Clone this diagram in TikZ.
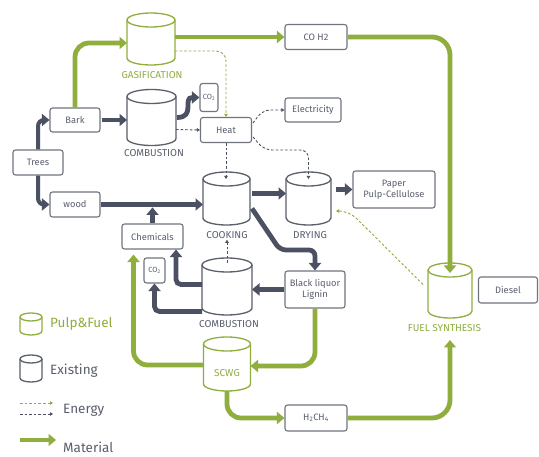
\documentclass[tikz,border=0pt]{standalone}
\usepackage{fontspec}
\setmainfont{Fira Sans}
\usetikzlibrary{arrows.meta,calc}
\definecolor{grn}{HTML}{8FAE3E}
\definecolor{drk}{HTML}{4B5163}
\definecolor{bord}{HTML}{70747E}
\definecolor{txt}{HTML}{5A5F6C}
\tikzset{
  box/.style={draw=bord, line width=1.1pt, rounded corners=2.5pt, fill=white, text=txt,
    font=\fontsize{9.3}{10.8}\selectfont, align=center, inner sep=1pt},
  cylnode/.style={inner sep=0pt, outer sep=0pt},
  gcyl/.style={draw=grn, line width=1.3pt},
  dcyl/.style={draw=txt, line width=1.3pt},
  lbl/.style={text=txt, font=\fontsize{10}{11}\selectfont, inner sep=1pt},
  glbl/.style={text=grn, font=\fontsize{10}{11}\selectfont, inner sep=1pt},
  mat/.style={line width=4.8pt, -{Triangle[length=7.5pt,width=12pt]}},
  gmat/.style={mat, draw=grn},
  dmat/.style={mat, draw=drk},
  enr/.style={line width=0.9pt, dash pattern=on 2.6pt off 2pt, -{Triangle[length=3pt,width=3.5pt]}},
  gen/.style={enr, draw=grn},
  den/.style={enr, draw=drk},
  legtxt/.style={anchor=west, font=\fontsize{13.5}{15}\selectfont, inner sep=0pt},
}
\newcommand\mycyl[7]{%
  \node[cylnode, minimum width=#4pt, minimum height=#5pt] (#1) at (#2,#3) {};
  \coordinate (#1-top) at ([yshift=-#6pt]#1.north);
  \draw[#7, fill=white] ([yshift=-#6pt]#1.north west) -- ([yshift=#6pt]#1.south west)
     arc[start angle=180, end angle=360, x radius=#4*0.5pt, y radius=#6pt]
     -- ([yshift=-#6pt]#1.north east)
     arc[start angle=0, end angle=180, x radius=#4*0.5pt, y radius=#6pt] -- cycle;
  \draw[#7] ([yshift=-#6pt]#1.north west)
     arc[start angle=180, end angle=360, x radius=#4*0.5pt, y radius=#6pt];
}
\begin{document}
\begin{tikzpicture}[x=1pt,y=-1pt]
\useasboundingbox (0,0) rectangle (539,457);
\fill[white] (0,0) rectangle (539,457);

% cylinders
\mycyl{gas}{151}{39}{48}{52}{7}{gcyl}
\mycyl{comb1}{151.5}{117.5}{49}{56}{7}{dcyl}
\mycyl{cook}{226.5}{198.5}{47}{53}{7}{dcyl}
\mycyl{dry}{308.5}{198.5}{45}{53}{7}{dcyl}
\mycyl{comb2}{227}{286.5}{50}{57}{7}{dcyl}
\mycyl{scwg}{227}{364}{47}{54}{7}{gcyl}
\mycyl{fuel}{450}{290.5}{44}{55}{7}{gcyl}
\mycyl{lg1}{31}{324}{22}{22}{4}{gcyl}
\mycyl{lg2}{31}{368.5}{22}{27}{4}{dcyl}

% cylinder labels
\node[glbl] (gaslbl) at (152,75) {GASIFICATION};
\node[lbl] (comb1lbl) at (154,153) {COMBUSTION};
\node[lbl] (cooklbl) at (227,235) {COOKING};
\node[lbl] (drylbl) at (310,235) {DRYING};
\node[lbl] (comb2lbl) at (229,324) {COMBUSTION};
\node[glbl] (fuellbl) at (444.5,328) {FUEL SYNTHESIS};
\node[glbl] (scwglbl) at (227,373) {SCWG};

% boxes
\node[box, minimum width=50pt, minimum height=25pt] (trees) at (38,162.5) {Trees};
\node[box, minimum width=50pt, minimum height=24pt] (bark) at (75,120) {Bark};
\node[box, minimum width=50pt, minimum height=25pt] (wood) at (75,204.5) {wood};
\node[box, minimum width=51pt, minimum height=25pt] (heat) at (226,130) {Heat};
\node[box, minimum width=18pt, minimum height=28pt, font=\fontsize{7.5}{8.5}\selectfont, inner sep=0.5pt] (co2a) at (209,97.5) {CO\textsubscript{2}};
\node[box, minimum width=56pt, minimum height=24pt] (elec) at (313,110) {Electricity};
\node[box, minimum width=62pt, minimum height=25pt] (coh2) at (316,37) {CO H2};
\node[box, minimum width=82pt, minimum height=37pt] (paper) at (394,189.5) {Paper\\Pulp-Cellulose};
\node[box, minimum width=61pt, minimum height=25pt] (chem) at (152.5,236.5) {Chemicals};
\node[box, minimum width=21pt, minimum height=25pt, font=\fontsize{7.5}{8.5}\selectfont, inner sep=0.5pt] (co2b) at (154.5,270.5) {CO\textsubscript{2}};
\node[box, minimum width=60pt, minimum height=37pt] (black) at (315,289.5) {Black liquor\\Lignin};
\node[box, minimum width=62pt, minimum height=26pt] (h2ch4) at (316,418) {H\textsubscript{2}CH\textsubscript{4}};
\node[box, minimum width=59pt, minimum height=26pt] (diesel) at (508,290) {Diesel};

% legend
\node[legtxt, text=grn] (lpf) at (50,324) {Pulp\&Fuel};
\node[legtxt, text=txt] (lex) at (50,371) {Existing};
\node[legtxt, text=txt] (len) at (63,410) {Energy};
\node[legtxt, text=txt] (lma) at (63,447) {Material};
\coordinate (lg3a) at (20,403); \coordinate (lg3b) at (53,403);
\coordinate (lg4a) at (20,414); \coordinate (lg4b) at (53,414);
\coordinate (lg5a) at (20,440); \coordinate (lg5b) at (56,440);
\draw[gen] (lg3a) -- (lg3b);
\draw[den] (lg4a) -- (lg4b);
\draw[gmat] (lg5a) -- (lg5b);

% material connectors (dark)
\draw[dmat, line width=4pt, rounded corners=6pt] (trees.north) |- (bark.west);
\draw[dmat, line width=4pt, rounded corners=6pt] (trees.south) |- (wood.west);
\draw[dmat, shorten <=1pt] (bark.east) -- (bark.east -| comb1.west);
\draw[dmat] ($(comb1.east)+(1,0)$) .. controls (196,117.5) and (182,97.5) .. (co2a.west);
\draw[dmat] (wood.east) -- (wood.east -| cook.west);
\draw[dmat] (chem.north) -- ++(0,-16);
\draw[dmat] ($(cook.east)+(2,-5)$) -- ($(dry.west)+(0,-5)$);
\draw[dmat, shorten <=5pt] (dry.east |- paper.west) -- (paper.west);
\draw[dmat, rounded corners=6pt] ($(cook.east)+(2,10)$) -- (280,250) -| (black.north);
\draw[dmat] (black.west) -- (black.west -| comb2.east);
\draw[dmat, rounded corners=5pt] ([yshift=2pt]comb2.west) -| ([xshift=23.5pt]chem.south);
\draw[dmat, rounded corners=5pt] ([yshift=-25pt]comb2.west) -| (co2b.south);

% material connectors (green)
\draw[gmat, rounded corners=14pt] (bark.north) |- ($(gas.west)+(0,4)$);
\draw[gmat] (gas.east |- coh2.west) -- (coh2.west);
\draw[gmat, rounded corners=18pt] (coh2.east) -| ($(fuel.north)+(0,10)$);
\draw[gmat, rounded corners=14pt] (black.south) |- ($(scwg.east)+(0,2)$);
\draw[gmat, rounded corners=14pt, shorten >=5pt] ($(scwg.west)+(0,1)$) -| ([xshift=-19pt]chem.south);
\draw[gmat, rounded corners=14pt] (scwg.south) |- (h2ch4.west);
\draw[gmat, rounded corners=18pt, shorten >=22pt] (h2ch4.east) -| (fuel.south);

% energy connectors
\draw[gen, rounded corners=10pt] ($(gas.east)+(0,12)$) -| (heat.north);
\draw[den] ($(comb1.east)+(0,12)$) -- (heat.west);
\draw[den] ($(heat.east)+(1,-7)$) .. controls (260,113) and (263,110) .. (272,110) -- (elec.west);
\draw[den, rounded corners=8pt] ($(heat.east)+(1,7)$) -- (264,150) -- (308.5,150) -- (dry-top);
\draw[den] (heat.south) -- (heat.south |- cook-top);
\draw[den, shorten <=2pt] (comb2-top) -- (cooklbl.south);
\draw[gen, rounded corners=10pt] ($(fuel.west)+(-5,-6)$) -- (349,211) -- ($(dry.east)+(5,12.5)$);
\end{tikzpicture}
\end{document}
